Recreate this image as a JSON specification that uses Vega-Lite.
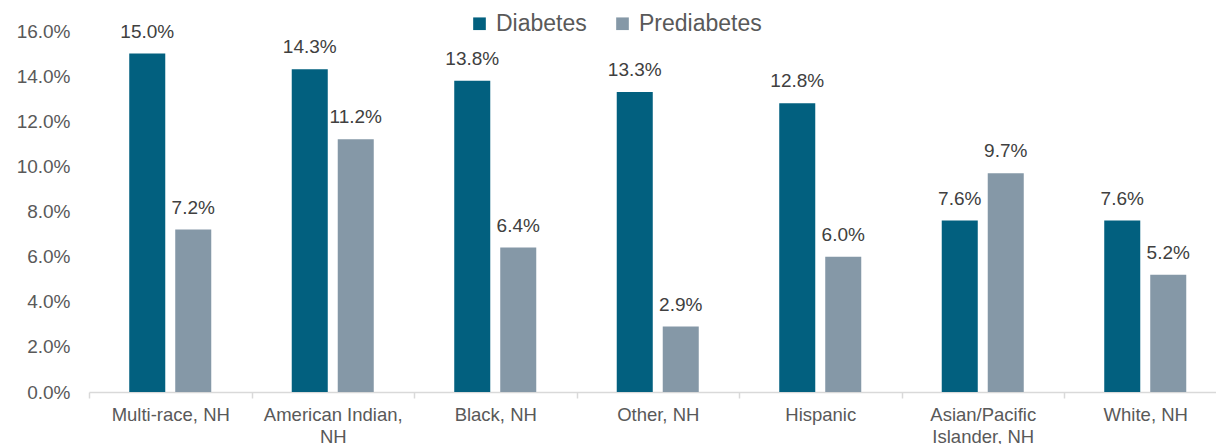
{
  "$schema": "https://vega.github.io/schema/vega-lite/v6.json",
  "autosize": "none",
  "width": 1127,
  "height": 361,
  "padding": {"left": 89, "top": 31, "right": 0, "bottom": 52},
  "background": "white",
  "config": {
    "view": {"stroke": null},
    "font": "Liberation Sans",
    "text": {"font": "Liberation Sans"}
  },
  "data": {
    "values": [
      {"group": "Multi-race, NH", "measure": "Diabetes", "rate": 0.150},
      {"group": "Multi-race, NH", "measure": "Prediabetes", "rate": 0.072},
      {"group": "American Indian, NH", "measure": "Diabetes", "rate": 0.143},
      {"group": "American Indian, NH", "measure": "Prediabetes", "rate": 0.112},
      {"group": "Black, NH", "measure": "Diabetes", "rate": 0.138},
      {"group": "Black, NH", "measure": "Prediabetes", "rate": 0.064},
      {"group": "Other, NH", "measure": "Diabetes", "rate": 0.133},
      {"group": "Other, NH", "measure": "Prediabetes", "rate": 0.029},
      {"group": "Hispanic", "measure": "Diabetes", "rate": 0.128},
      {"group": "Hispanic", "measure": "Prediabetes", "rate": 0.060},
      {"group": "Asian/Pacific Islander, NH", "measure": "Diabetes", "rate": 0.076},
      {"group": "Asian/Pacific Islander, NH", "measure": "Prediabetes", "rate": 0.097},
      {"group": "White, NH", "measure": "Diabetes", "rate": 0.076},
      {"group": "White, NH", "measure": "Prediabetes", "rate": 0.052}
    ]
  },
  "encoding": {
    "x": {
      "field": "group",
      "type": "nominal",
      "sort": null,
      "scale": {"range": [0, 1137.5], "paddingInner": 0, "paddingOuter": 0},
      "axis": {
        "title": null,
        "labelAngle": 0,
        "labelFont": "Liberation Sans",
        "labelFontSize": 18.5,
        "labelColor": "#595959",
        "labelLineHeight": 22,
        "labelPadding": 7,
        "labelExpr": "datum.value == 'American Indian, NH' ? ['American Indian,', 'NH'] : datum.value == 'Asian/Pacific Islander, NH' ? ['Asian/Pacific', 'Islander, NH'] : datum.value",
        "domainColor": "#D9D9D9",
        "domainWidth": 1.5,
        "tickColor": "#D9D9D9",
        "tickWidth": 1.5,
        "tickSize": 6,
        "tickBand": "extent",
        "grid": false
      }
    },
    "xOffset": {
      "field": "measure",
      "type": "nominal",
      "scale": {"paddingInner": 0.217, "paddingOuter": 0.875}
    },
    "y": {
      "field": "rate",
      "type": "quantitative",
      "scale": {"domain": [0, 0.16]},
      "axis": {
        "title": null,
        "format": ".1%",
        "values": [0, 0.02, 0.04, 0.06, 0.08, 0.10, 0.12, 0.14, 0.16],
        "labelFont": "Liberation Sans",
        "labelFontSize": 19,
        "labelColor": "#595959",
        "labelPadding": 19,
        "domain": false,
        "ticks": false,
        "grid": false
      }
    }
  },
  "layer": [
    {
      "mark": {"type": "bar"},
      "encoding": {
        "color": {
          "field": "measure",
          "type": "nominal",
          "scale": {"domain": ["Diabetes", "Prediabetes"], "range": ["#02607F", "#8598A7"]},
          "legend": {
            "title": null,
            "orient": "none",
            "direction": "horizontal",
            "legendX": 379,
            "legendY": -19,
            "padding": 0,
            "symbolType": "square",
            "symbolSize": 160,
            "symbolStrokeWidth": 0,
            "labelFont": "Liberation Sans",
            "labelFontSize": 23,
            "labelColor": "#595959",
            "labelOffset": 5,
            "columnPadding": 24
          }
        }
      }
    },
    {
      "mark": {
        "type": "text",
        "baseline": "alphabetic",
        "dy": -16,
        "font": "Liberation Sans",
        "fontSize": 19,
        "color": "#404040"
      },
      "encoding": {
        "text": {"field": "rate", "type": "quantitative", "format": ".1%"}
      }
    }
  ]
}
